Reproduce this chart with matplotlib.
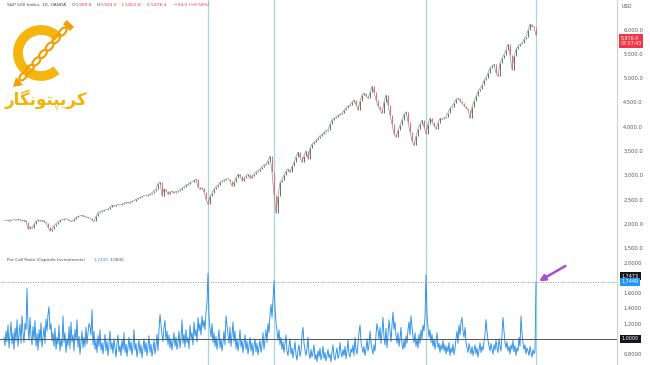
import numpy as np
import matplotlib
matplotlib.use("Agg")
import matplotlib.pyplot as plt
import matplotlib.transforms as mtransforms
from matplotlib.patches import Arc, Ellipse, Polygon

# ---------------- data ----------------
# S&P 500 closes, one value every 2 session-units of the chart
closes = [
    2069, 2075, 2060, 2080, 2072, 2085, 2070, 2090, 2083, 2060, 2075, 2040, 1890, 1940, 1915, 1990,
    2050, 2083, 2060, 2069, 2045, 2010, 1930, 1854, 1900, 1960, 2000, 2040, 2069, 2080, 2095, 2104,
    2085, 2060, 2048, 2090, 2130, 2150, 2160, 2173, 2150, 2140, 2125, 2119, 2070, 2048, 2150, 2229,
    2250, 2265, 2275, 2292, 2300, 2340, 2381, 2365, 2380, 2395, 2380, 2405, 2420, 2437, 2430, 2445,
    2458, 2475, 2500, 2520, 2542, 2560, 2575, 2570, 2590, 2604, 2640, 2680, 2720, 2820, 2854, 2569,
    2720, 2680, 2604, 2646, 2670, 2640, 2660, 2673, 2700, 2730, 2760, 2800, 2813, 2848, 2860, 2890,
    2917, 2750, 2708, 2744, 2660, 2500, 2396, 2560, 2640, 2710, 2760, 2800, 2848, 2880, 2900, 2917,
    2930, 2880, 2777, 2850, 2950, 3021, 2980, 2881, 2940, 2990, 3021, 2931, 2980, 3020, 3070, 3090,
    3120, 3170, 3210, 3229, 3300, 3390, 3056, 2600, 2223, 2569, 2848, 2900, 3000, 3080, 3125, 3056,
    3180, 3260, 3380, 3473, 3380, 3265, 3400, 3500, 3333, 3550, 3640, 3681, 3720, 3760, 3812, 3840,
    3880, 3910, 3935, 4050, 4140, 4167, 4190, 4230, 4250, 4271, 4330, 4390, 4420, 4444, 4500, 4548,
    4450, 4340, 4520, 4650, 4688, 4620, 4583, 4700, 4827, 4700, 4548, 4420, 4350, 4271, 4500, 4652,
    4450, 4235, 4050, 3850, 3785, 3920, 4027, 4130, 4250, 4306, 4100, 3890, 3700, 3610, 3800, 3958,
    4050, 4131, 3990, 3854, 4050, 4167, 4100, 4010, 3958, 4080, 4167, 4150, 4180, 4202, 4280, 4380,
    4410, 4480, 4560, 4583, 4520, 4479, 4430, 4380, 4340, 4167, 4400, 4515, 4620, 4723, 4780, 4850,
    4950, 5000, 5100, 5208, 5250, 5277, 5100, 5035, 5313, 5400, 5480, 5580, 5694, 5480, 5173, 5450,
    5590, 5650, 5694, 5720, 5798, 5850, 5980, 6110, 6060, 6042, 5876.4,
]

# Put/Call ratio, one value per session-unit
pcr = [
    1.02, 0.91, 1.10, 0.96, 1.18, 0.88, 1.05, 1.22, 0.93, 1.08, 0.86, 1.14, 0.97, 1.25, 0.90, 1.06, 1.19, 0.94, 1.30, 1.08,
    0.95, 1.20, 1.12, 1.66, 1.15, 0.98, 1.28, 1.04, 0.92, 1.16, 0.99, 1.24, 0.90, 1.07, 0.85, 1.12, 0.96, 1.21, 0.89, 1.03,
    1.15, 0.94, 1.26, 1.10, 1.32, 1.42, 1.12, 1.20, 0.97, 1.08, 0.90, 1.14, 0.86, 1.02, 0.93, 1.18, 0.84, 0.99, 0.90, 1.30,
    0.95, 1.08, 0.82, 1.00, 0.91, 1.16, 0.87, 1.22, 0.96, 1.05, 0.84, 1.12, 0.98, 1.25, 0.89, 1.03, 0.80, 0.95, 1.10, 0.88,
    1.02, 0.90, 1.15, 0.93, 1.08, 1.20, 1.16, 1.05, 1.38, 0.92, 1.10, 0.86, 0.98, 0.82, 1.04, 0.90, 1.12, 0.85, 0.95, 0.80,
    0.93, 1.06, 0.84, 0.97, 0.78, 0.92, 1.10, 0.86, 0.95, 0.81, 1.00, 0.88, 0.76, 0.94, 1.05, 0.83, 0.91, 0.78, 0.98, 0.86,
    1.08, 0.82, 0.93, 0.77, 0.89, 1.02, 0.84, 0.96, 0.79, 0.90, 1.12, 0.85, 0.94, 0.76, 0.88, 0.99, 0.81, 0.92, 0.75, 0.87,
    1.00, 0.83, 0.95, 0.78, 0.90, 1.04, 0.82, 0.93, 0.77, 0.86, 0.98, 0.80, 0.91, 1.06, 0.84, 1.12, 1.32, 1.18, 1.05, 0.96,
    1.15, 1.24, 0.98, 1.10, 0.92, 1.05, 0.88, 1.00, 0.85, 0.97, 1.08, 0.90, 1.02, 0.86, 0.95, 1.10, 0.88, 1.00, 1.25, 0.94,
    1.06, 0.89, 1.12, 0.95, 1.02, 0.87, 1.18, 1.00, 1.08, 0.92, 1.22, 1.04, 1.12, 0.96, 1.28, 1.10, 1.20, 1.05, 1.30, 1.15,
    1.24, 1.12, 1.35, 1.48, 1.86, 1.30, 1.14, 1.02, 1.20, 0.95, 1.08, 0.90, 1.03, 0.86, 0.98, 1.12, 0.88, 1.00, 0.84, 0.95,
    1.10, 0.92, 1.30, 1.18, 1.06, 0.94, 1.15, 0.90, 1.05, 1.22, 0.96, 1.10, 0.87, 1.00, 0.84, 0.95, 1.12, 0.89, 0.98, 0.82,
    0.93, 1.05, 0.86, 0.97, 0.80, 0.91, 1.02, 0.84, 0.95, 0.78, 0.90, 1.00, 0.83, 0.94, 0.79, 0.88, 0.98, 0.82, 0.92, 1.08,
    0.86, 1.00, 1.12, 0.95, 1.20, 1.08, 1.32, 1.45, 1.28, 1.52, 1.76, 1.40, 1.22, 1.10, 0.98, 1.12, 0.92, 1.02, 0.86, 0.96,
    0.82, 0.93, 1.05, 0.84, 0.78, 0.90, 1.00, 0.80, 0.88, 0.75, 0.86, 0.96, 0.79, 0.72, 0.85, 0.92, 0.77, 0.83, 1.05, 1.15,
    0.94, 0.85, 0.78, 0.88, 1.02, 0.80, 0.74, 0.86, 0.76, 0.82, 0.92, 0.73, 0.80, 0.70, 0.84, 0.76, 0.88, 0.72, 0.79, 0.90,
    0.74, 0.82, 0.71, 0.78, 0.86, 0.75, 0.80, 0.70, 0.83, 0.92, 0.76, 0.72, 0.81, 0.88, 0.74, 0.79, 0.95, 0.82, 0.76, 0.86,
    0.78, 0.90, 0.74, 0.84, 0.98, 0.80, 0.76, 0.87, 0.82, 0.92, 0.78, 1.02, 0.86, 0.80, 0.94, 1.08, 1.18, 0.96, 0.88, 0.82,
    0.90, 0.78, 0.86, 1.00, 0.84, 0.92, 1.10, 0.95, 0.86, 0.80, 0.92, 0.84, 1.05, 1.20, 1.12, 1.00, 1.15, 0.94, 1.08, 1.28,
    1.02, 0.92, 1.14, 0.88, 1.05, 1.25, 1.10, 0.96, 1.18, 1.35, 1.12, 1.22, 1.04, 0.94, 1.08, 0.90, 1.00, 1.15, 0.92, 0.86,
    0.98, 0.88, 1.04, 0.94, 1.12, 1.22, 1.05, 1.30, 1.16, 1.02, 0.95, 1.08, 0.90, 1.00, 0.88, 1.06, 0.94, 1.12, 1.00, 1.18,
    1.10, 1.28, 1.84, 1.32, 1.15, 1.02, 1.12, 0.95, 1.06, 0.90, 1.00, 0.86, 0.96, 1.08, 0.88, 0.94, 0.82, 0.92, 0.86, 0.98,
    0.84, 0.92, 0.80, 0.90, 0.83, 0.95, 0.78, 0.88, 0.82, 0.93, 0.79, 0.87, 1.00, 1.10, 0.94, 1.18, 1.05, 1.22, 1.28, 1.10,
    1.02, 1.15, 0.95, 0.88, 0.82, 0.94, 0.86, 0.80, 0.90, 0.78, 0.85, 0.92, 0.80, 0.88, 0.76, 0.84, 0.95, 0.82, 0.90, 0.85,
    0.96, 1.05, 1.25, 1.10, 0.98, 0.90, 0.84, 0.94, 0.86, 0.80, 0.92, 0.85, 0.98, 0.88, 0.82, 1.00, 0.90, 0.84, 1.05, 1.28,
    1.10, 0.95, 0.88, 0.96, 0.84, 0.90, 0.80, 0.92, 0.86, 0.98, 0.83, 0.91, 0.78, 0.88, 0.84, 1.02, 0.90, 1.30, 1.08, 0.94,
    0.86, 0.92, 0.80, 0.88, 0.84, 0.78, 0.90, 0.82, 0.76, 0.86, 0.80, 0.84, 1.7449,
]

price_ticks = [1500, 2000, 2500, 3000, 3500, 4000, 4500, 5000, 5500, 6000]
pcr_ticks = [0.8, 1.2, 1.4, 1.6, 2.0]
pcr_level = 1.0
spike_threshold = 1.7
marker_value = 1.7473
header_parts = [("S&P 500 Index, 1D, OANDA", "#4a4a4a"), ("O", "#4a4a4a"), ("5,909.8", "#f23645"),
                ("H", "#4a4a4a"), ("5,924.0", "#f23645"), ("L", "#4a4a4a"), ("5,852.8", "#f23645"),
                ("C", "#4a4a4a"), ("5,876.4", "#f23645"), ("\u221234.0 (\u22120.58%)", "#f23645")]
countdown = "07:07:43"

W, H = 650, 365
fig = plt.figure(figsize=(W / 100, H / 100), dpi=100)
fig.patch.set_facecolor("white")

axis_w = 617 / W
ax_p = fig.add_axes([0, 113 / H, axis_w, 252 / H])
ax_r = fig.add_axes([0, 0, axis_w, 113 / H])

n = len(closes)
xs = np.arange(n) * 2
opens = np.array([closes[0]] + closes[:-1], dtype=float)
cl = np.array(closes, dtype=float)
up = cl >= opens
colors = np.where(up, "#66776f", "#e56f7a")
ax_p.plot(xs, cl, color="#7d8c87", linewidth=0.45, zorder=1)
ax_p.vlines(xs, np.minimum(opens, cl), np.maximum(opens, cl), colors=colors, linewidth=0.75, zorder=2)

xr = np.arange(len(pcr))
ax_r.plot(xr, pcr, color="#2b8fe6", linewidth=0.65)
ax_r.axhline(pcr_level, color="#555555", linewidth=0.7)
ax_r.axhline(pcr[-1], color="#9a9a9a", linewidth=0.6, linestyle=(0, (1.5, 1.5)))

for i, v in enumerate(pcr):
    if v > spike_threshold:
        for a in (ax_p, ax_r):
            a.axvline(i, color="#a5d6d8", linewidth=0.9, zorder=0)

xlim = (-4, 613)
for a in (ax_p, ax_r):
    a.set_xlim(*xlim)
    a.set_facecolor("white")
    a.set_xticks([])
    a.yaxis.tick_right()
    a.tick_params(axis="y", length=0, pad=4.5, labelsize=3.7, colors="#555555")
    for s in ("left", "top"):
        a.spines[s].set_visible(False)
    a.spines["right"].set_color("#cfcfcf")
    a.spines["right"].set_linewidth(0.8)
ax_p.spines["bottom"].set_color("#e2e2e2")
ax_p.spines["bottom"].set_linewidth(0.8)
ax_r.spines["bottom"].set_visible(False)

ax_p.set_ylim(1418, 6603)
ax_p.set_yticks(price_ticks)
ax_p.set_yticklabels([f"{t:,.1f}" for t in price_ticks])
ax_r.set_ylim(0.656, 2.138)
ax_r.set_yticks(pcr_ticks)
ax_r.set_yticklabels([f"{t:.4f}" for t in pcr_ticks])

# right-side value labels
tp = mtransforms.blended_transform_factory(ax_p.transAxes, ax_p.transData)
ax_p.text(1.006, closes[-1] - 115, f"{closes[-1]:,.1f}\n{countdown}", transform=tp, fontsize=3.4,
          color="white", va="center", ha="left", linespacing=1.15,
          bbox=dict(boxstyle="square,pad=0.3", fc="#f23645", ec="none"))
tr = mtransforms.blended_transform_factory(ax_r.transAxes, ax_r.transData)
ax_r.text(1.008, marker_value + 0.075, f"{marker_value:.4f}", transform=tr, fontsize=3.5,
          color="white", va="center", ha="left",
          bbox=dict(boxstyle="square,pad=0.3", fc="#131722", ec="none"))
ax_r.text(1.008, pcr[-1], f"{pcr[-1]:.4f}", transform=tr, fontsize=3.5,
          color="white", va="center", ha="left",
          bbox=dict(boxstyle="square,pad=0.3", fc="#2196f3", ec="none"))
ax_r.text(1.008, pcr_level, f"{pcr_level:.4f}", transform=tr, fontsize=3.5,
          color="white", va="center", ha="left",
          bbox=dict(boxstyle="square,pad=0.3", fc="#131722", ec="none"))

# arrow to last spike
ax_r.annotate("", xy=(xr[-1] + 3, pcr[-1] + 0.01), xytext=(19, 11), textcoords="offset points",
              arrowprops=dict(arrowstyle="-|>", color="#a74fd0", lw=1.8, mutation_scale=9,
                              shrinkA=0, shrinkB=0))

def ftext(x, y, s, **kw):
    fig.text(x / W, 1 - y / H, s, va="center", **kw)

ftext(622, 7, "USD", fontsize=3.6, color="#555555")
hx = [7, 72, 75.5, 97, 100.5, 122, 125, 147, 150.5, 174]
for (s, c), x in zip(header_parts, hx):
    ftext(x, 5.5, s, fontsize=3.2, color=c)
ftext(7, 260, "Put Call Ratio (Capriole Investments)", fontsize=3.1, color="#4a4a4a")
ftext(93, 260, f"{pcr[-1]:.4f}", fontsize=3.1, color="#2196f3")
ftext(109, 260, f"{pcr_level:.4f}", fontsize=3.1, color="#4a4a4a")

# logo
ax_l = fig.add_axes([0, 1 - 115 / H, 100 / W, 105 / H])
ax_l.set_xlim(0, 100)
ax_l.set_ylim(115, 10)
ax_l.axis("off")
gold = "#f6b40e"
ax_l.add_patch(Arc((41, 53), 46, 46, theta1=48, theta2=318, color=gold, lw=7))
p0, p1 = np.array([20.0, 80.0]), np.array([66.0, 28.0])
ang = np.degrees(np.arctan2(p1[1] - p0[1], p1[0] - p0[0]))
for k in range(7):
    c = p0 + (p1 - p0) * (k + 0.5) / 7
    ax_l.add_patch(Ellipse(c, 10, 5.5, angle=ang, fill=False, ec="#f2a007", lw=1.6))
ax_l.add_patch(Polygon([[13, 87], [23, 85], [16, 77]], closed=True, fc="#f2a007", ec="none"))
ax_l.add_patch(Polygon([[63, 24], [70, 31], [74, 27], [67, 20]], closed=True, fc="#f2a007", ec="none"))
logo_text = "\uFEAD\uFE8E\uFB95\uFEE7\uFEEE\uFE98\uFB59\uFBFE\uFEAE\uFB90"
ax_l.text(46, 99, logo_text, fontsize=12, fontweight="bold", color="#f5b301",
          ha="center", va="center", family=["DejaVu Sans"])

fig.savefig("out.png", dpi=100, facecolor="white")
